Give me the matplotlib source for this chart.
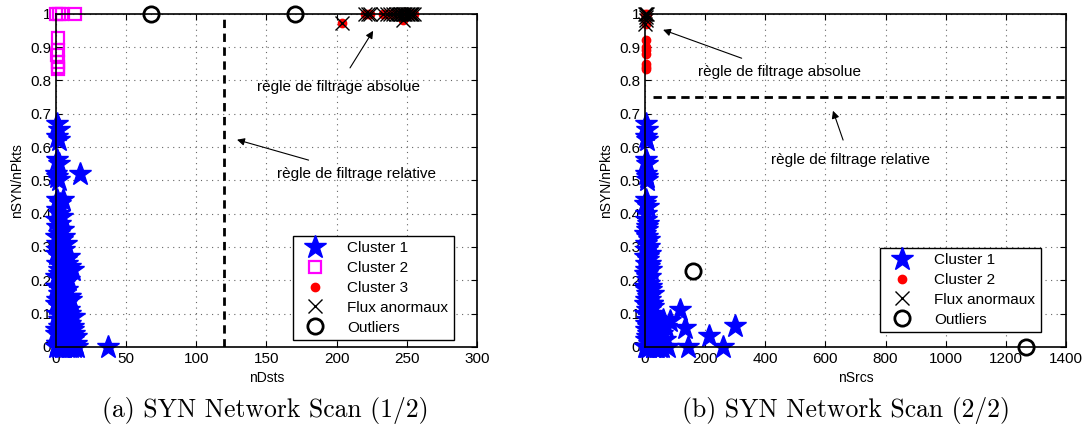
import matplotlib
matplotlib.use("Agg")
import matplotlib.pyplot as plt

plt.rcParams["font.family"] = ["Liberation Sans", "DejaVu Sans"]

# -------------------------------
# (a) SYN Network Scan (1/2) : nDsts
# -------------------------------
a_c1_x = [1, 2, 1, 2, 1, 2, 0, 1, 2, 17, 1, 5, 3, 1, 2, 4, 0, 3, 1, 5,
          2, 0, 4, 1, 3, 6, 0, 2, 5, 1, 4, 12, 7, 0, 3, 9, 6, 1, 4, 8,
          2, 10, 5, 0, 7, 3, 9, 1, 6, 11, 4, 8, 2, 12, 5, 0, 9, 14, 3, 7,
          11, 1, 6, 13, 4, 9, 15, 37, 2, 8, 3, 6, 10, 0, 2, 5, 7,
          3, 6, 9, 1, 4, 7, 10, 2, 5, 8, 0, 3, 6, 9, 11, 1, 4, 7, 10, 13,
          2, 5, 8, 12, 0, 3, 6, 9, 12, 14, 1, 4, 8, 11, 2, 6, 10, 13, 3, 5]
a_c1_y = [0.67, 0.65, 0.63, 0.62, 0.56, 0.55, 0.52, 0.51, 0.50, 0.52, 0.44, 0.44,
          0.43, 0.41, 0.40, 0.39, 0.38, 0.37, 0.36, 0.35, 0.34, 0.33, 0.32, 0.31,
          0.30, 0.29, 0.28, 0.27, 0.26, 0.25, 0.24, 0.23, 0.22, 0.21, 0.20, 0.20,
          0.19, 0.18, 0.17, 0.17, 0.16, 0.15, 0.14, 0.13, 0.13, 0.12, 0.11, 0.10,
          0.10, 0.09, 0.08, 0.07, 0.06, 0.06, 0.05, 0.04, 0.04, 0.03, 0.03, 0.02,
          0.01, 0.01, 0.0, 0.0, 0.0, 0.0, 0.0, 0.0, 0.22, 0.25, 0.08, 0.06,
          0.03, 0.0, 0.0, 0.19, 0.31,
          0.35, 0.33, 0.27, 0.29, 0.27, 0.26, 0.24, 0.23, 0.21, 0.20, 0.18, 0.17,
          0.16, 0.15, 0.14, 0.14, 0.12, 0.11, 0.10, 0.09, 0.08, 0.07, 0.06, 0.05,
          0.05, 0.04, 0.03, 0.02, 0.02, 0.01, 0.01, 0.0, 0.0, 0.0, 0.12, 0.11,
          0.07, 0.04, 0.16, 0.21]

a_c2_x = [0, 2, 4, 13.5, 1.5, 1.5, 1, 1.5, 1.5, 1.5]
a_c2_y = [1, 1, 1, 1, 0.928, 0.89, 0.875, 0.855, 0.84, 0.835]

a_c3_x = [204, 220, 222, 224, 233, 236, 238, 240, 242, 244, 245, 246, 247, 248,
          249, 250, 251, 252, 253, 254, 255, 247]
a_c3_y = [0.973, 1, 1, 1, 1, 1, 1, 1, 1, 1, 1, 1, 1, 1,
          1, 1, 1, 1, 1, 1, 1, 0.98]

a_anom_x = a_c3_x
a_anom_y = a_c3_y

a_out_x = [68, 170]
a_out_y = [1, 1]

a_seuil_x = 120

# -------------------------------
# (b) SYN Network Scan (2/2) : nSrcs
# -------------------------------
b_c1_x = [3, 5, 2, 6, 4, 7, 2, 5, 8, 3, 1, 9, 4, 2, 10, 5, 1, 8, 3, 12,
          6, 0, 10, 4, 14, 2, 8, 16, 5, 11, 0, 20, 7, 14, 3, 24, 10, 18, 1, 28,
          13, 6, 22, 35, 16, 2, 30, 9, 40, 20, 4, 33, 12, 45, 0, 25, 8, 38, 50,
          60, 83, 116, 133, 143, 213, 259, 299, 76, 55, 70,
          6, 12, 18, 3, 9, 15, 21, 1, 7, 13, 19, 25, 4, 10, 16, 22, 28, 0, 6,
          12, 18, 24, 30, 36, 3, 9, 15, 21, 27, 33, 42, 5, 11, 17, 23, 29, 35,
          48, 2, 14, 26, 40, 55, 65]
b_c1_y = [0.67, 0.65, 0.63, 0.62, 0.56, 0.55, 0.52, 0.51, 0.50, 0.44, 0.43, 0.42,
          0.40, 0.38, 0.37, 0.36, 0.34, 0.33, 0.31, 0.30, 0.29, 0.27, 0.26, 0.25,
          0.24, 0.23, 0.22, 0.21, 0.20, 0.19, 0.18, 0.17, 0.16, 0.15, 0.14, 0.13,
          0.12, 0.11, 0.10, 0.10, 0.09, 0.08, 0.08, 0.07, 0.06, 0.05, 0.05, 0.04,
          0.04, 0.03, 0.02, 0.02, 0.01, 0.01, 0.0, 0.0, 0.0, 0.0, 0.0,
          0.08, 0.078, 0.11, 0.057, 0.0, 0.033, 0.0, 0.063, 0.0, 0.04, 0.06,
          0.35, 0.32, 0.28, 0.29, 0.27, 0.25, 0.23, 0.22, 0.21, 0.19, 0.18, 0.16,
          0.17, 0.15, 0.14, 0.13, 0.12, 0.13, 0.11, 0.10, 0.09, 0.09, 0.08, 0.07,
          0.07, 0.06, 0.06, 0.05, 0.04, 0.04, 0.03, 0.03, 0.02, 0.02, 0.01, 0.01,
          0.01, 0.02, 0.0, 0.0, 0.0, 0.0, 0.0, 0.02]

b_c2_x = [3, 3, 4, 3, 4, 3, 3, 3, 2, 4, 1, 5]
b_c2_y = [0.92, 0.90, 0.89, 0.88, 0.85, 0.84, 0.835, 0.97, 0.98, 0.99, 1, 1]

b_anom_x = [0, 2, 3, 1, 4, 5]
b_anom_y = [1, 0.99, 0.98, 0.97, 1, 1]

b_out_x = [160, 1267]
b_out_y = [0.228, 0]

b_seuil_y = 0.75

fig = plt.figure(figsize=(10.87, 4.32), dpi=100)
ax1 = fig.add_axes([0.0515, 0.197, 0.3873, 0.771])
ax2 = fig.add_axes([0.5934, 0.197, 0.3873, 0.771])

star = dict(linestyle="none", marker="*", markersize=17, color="blue",
            markeredgecolor="blue", clip_on=False)
square = dict(linestyle="none", marker="s", markersize=8, markerfacecolor="none",
              markeredgecolor="magenta", markeredgewidth=1.6, clip_on=False)
dot = dict(linestyle="none", marker="o", markersize=6, color="red", clip_on=False)
cross = dict(linestyle="none", marker="x", markersize=10, color="black",
             markeredgewidth=1.0, clip_on=False)
ring = dict(linestyle="none", marker="o", markersize=11, markerfacecolor="none",
            markeredgecolor="black", markeredgewidth=2, clip_on=False)
legend_opts = dict(loc="lower right", borderaxespad=0, fontsize=11, fancybox=False,
                   edgecolor="black", framealpha=1, handlelength=2.2,
                   handletextpad=1.0, labelspacing=0.38, borderpad=0.35)

# left plot
ax1.axvline(a_seuil_x, color="black", linestyle="--", linewidth=2, dashes=(3, 2))
ax1.plot(a_c1_x, a_c1_y, label="Cluster 1", **star)
ax1.plot(a_c2_x, a_c2_y, label="Cluster 2", **square)
ax1.plot(a_c3_x, a_c3_y, label="Cluster 3", **dot)
ax1.plot(a_anom_x, a_anom_y, label="Flux anormaux", **cross)
ax1.plot(a_out_x, a_out_y, label="Outliers", **ring)
ax1.set_xlim(0, 300)
ax1.set_xticks([0, 50, 100, 150, 200, 250, 300])
ax1.set_xlabel("nDsts", fontsize=10)
ax1.annotate("règle de filtrage relative", xy=(129, 0.622), xytext=(214, 0.52),
             ha="center", va="center", fontsize=11,
             arrowprops=dict(arrowstyle="-|>", color="black", lw=0.8,
                             shrinkA=10, shrinkB=0))
ax1.annotate("règle de filtrage absolue", xy=(226, 0.949), xytext=(201, 0.78),
             ha="center", va="center", fontsize=11,
             arrowprops=dict(arrowstyle="-|>", color="black", lw=0.8,
                             shrinkA=8, shrinkB=0))
ax1.legend(bbox_to_anchor=(0.945, 0.021), **legend_opts)

# right plot
ax2.axhline(b_seuil_y, xmin=0.018, color="black", linestyle="--", linewidth=2,
            dashes=(3, 2))
ax2.plot(b_c1_x, b_c1_y, label="Cluster 1", **star)
ax2.plot(b_c2_x, b_c2_y, label="Cluster 2", **dot)
ax2.plot(b_anom_x, b_anom_y, label="Flux anormaux", **cross)
ax2.plot(b_out_x, b_out_y, label="Outliers", **ring)
ax2.set_xlim(0, 1400)
ax2.set_xticks([0, 200, 400, 600, 800, 1000, 1200, 1400])
ax2.set_xlabel("nSrcs", fontsize=10)
ax2.annotate("règle de filtrage absolue", xy=(60, 0.952), xytext=(446, 0.826),
             ha="center", va="center", fontsize=11,
             arrowprops=dict(arrowstyle="-|>", color="black", lw=0.8,
                             shrinkA=8, shrinkB=0))
ax2.annotate("règle de filtrage relative", xy=(625, 0.709), xytext=(682, 0.56),
             ha="center", va="center", fontsize=11,
             arrowprops=dict(arrowstyle="-|>", color="black", lw=0.8,
                             shrinkA=8, shrinkB=0))
ax2.legend(bbox_to_anchor=(0.94, 0.045), **legend_opts)

for ax in (ax1, ax2):
    ax.set_ylim(0, 1)
    ax.set_yticks([0, 0.1, 0.2, 0.3, 0.4, 0.5, 0.6, 0.7, 0.8, 0.9, 1])
    ax.set_yticklabels(["0", "0.1", "0.2", "0.3", "0.4", "0.5", "0.6", "0.7",
                        "0.8", "0.9", "1"])
    ax.set_ylabel("nSYN/nPkts", fontsize=10)
    ax.grid(True, linestyle=(0, (1, 4)), color="#666666", linewidth=0.8)
    ax.tick_params(direction="in", labelsize=11, top=True, right=True, length=4)
    for s in ax.spines.values():
        s.set_linewidth(1.2)
    ax.set_axisbelow(True)

fig.text(0.244, 0.05, "(a) SYN Network Scan (1/2)", ha="center", va="center",
         fontsize=18.5, family="cmr10")
fig.text(0.778, 0.05, "(b) SYN Network Scan (2/2)", ha="center", va="center",
         fontsize=18.5, family="cmr10")

fig.savefig("out.png", dpi=100)
